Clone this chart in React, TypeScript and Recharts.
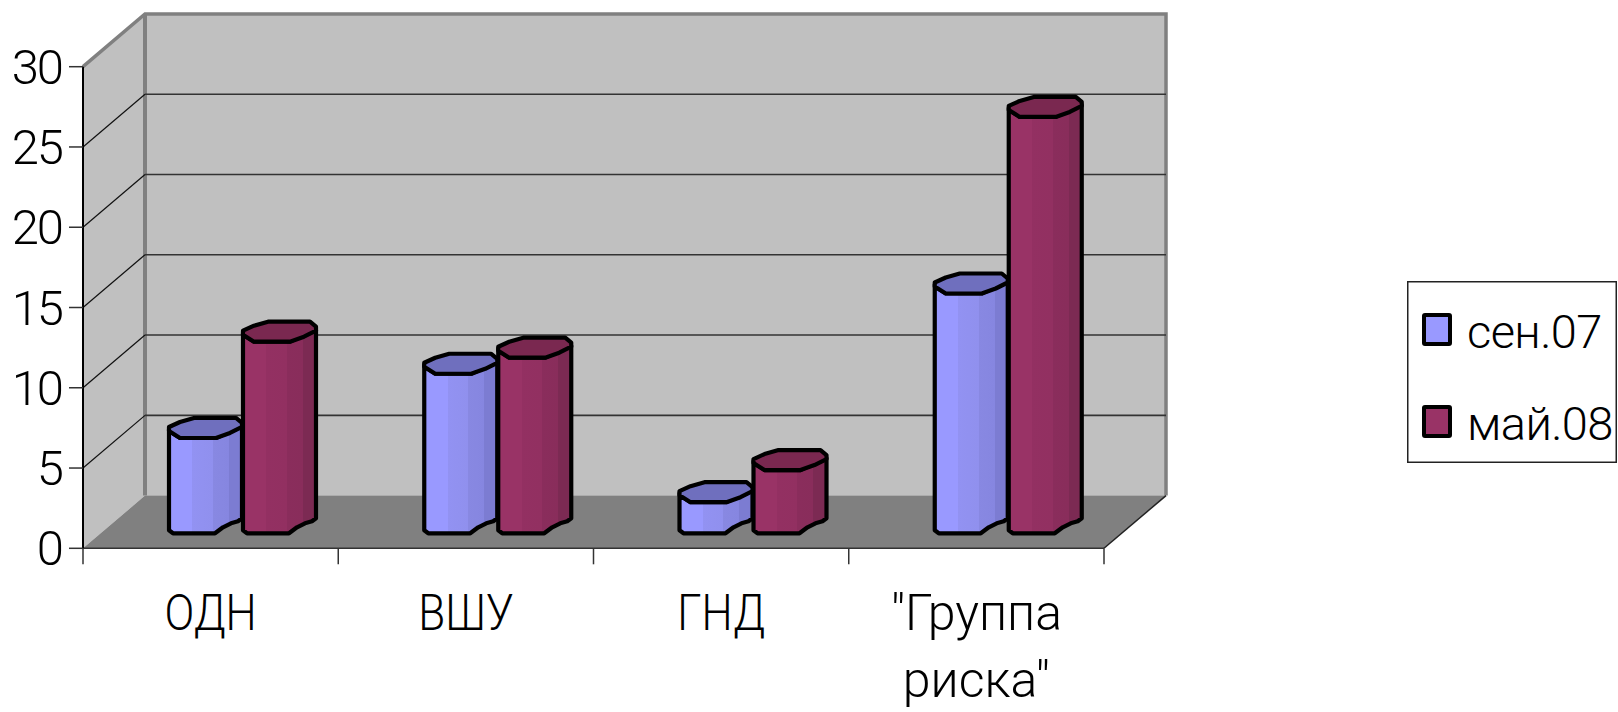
import React from 'react';
import { BarChart, Bar, XAxis, YAxis, CartesianGrid, Legend } from 'recharts';

const categories = ['ОДН', 'ВШУ', 'ГНД', '"Группа риска"'];
const sep07 = [6, 10, 2, 15];
const may08 = [12, 11, 4, 26];
const yTicks = [0, 5, 10, 15, 20, 25, 30];
const seriesNames = ['сен.07', 'май.08'];

const data = categories.map((name, i) => ({ name, sep: sep07[i], may: may08[i] }));

const W = 1618, H = 712;
const L = 83, T = 66.7, R = 1104, B = 548.3;
const DX = 62, DY = 52.7;
const BAND = (R - L) / categories.length;
const FONT = 'Roboto, sans-serif';
const GRAY = '#808080', WALL = '#C0C0C0';

const Walls = () => (
  <g>
    <polygon points={`${L},${T} ${L + DX},${T - DY} ${L + DX},${B - DY} ${L},${B}`} fill={WALL} />
    <rect x={L + DX} y={T - DY} width={R - L} height={B - T} fill={WALL} />
    <polygon points={`${L},${B} ${L + DX},${B - DY} ${R + DX},${B - DY} ${R},${B}`} fill={GRAY} />
    <polyline points={`${L},${T} ${L + DX},${T - DY} ${R + DX},${T - DY} ${R + DX},${B - DY}`} fill="none" stroke={GRAY} strokeWidth={3.5} />
    <line x1={L + DX} y1={T - DY} x2={L + DX} y2={B - DY} stroke={GRAY} strokeWidth={4} />
    <line x1={R} y1={B} x2={R + DX} y2={B - DY} stroke="#222" strokeWidth={1.5} />
  </g>
);

const gridLine = (p: any) => {
  const k = p.key ?? p.index;
  if (p.index === 0) return <Walls key={k} />;
  if (p.y1 >= B - 1 || p.y1 <= T + 1) return <g key={k} />;
  return (
    <g key={k}>
      <line x1={p.x1} y1={p.y1} x2={p.x1 + DX} y2={p.y1 - DY} stroke="#111" strokeWidth={1.2} />
      <line x1={p.x1 + DX} y1={p.y1 - DY} x2={p.x2 + DX} y2={p.y1 - DY} stroke="#333" strokeWidth={1.6} />
    </g>
  );
};

const palettes: Record<string, { grad: string; cap: string }> = {
  sep: { grad: 'url(#sepGrad)', cap: '#6F6FBE' },
  may: { grad: 'url(#mayGrad)', cap: '#7A2850' },
};

const Cylinder = (p: any) => {
  const { x, y, width: w, height: h, dataKey } = p;
  const pal = palettes[dataKey];
  const X = x + 31;
  const b = y + h - 15;
  const t = y - 15 + 1;
  const px = (dx: number, yy: number) => `${X + dx},${yy}`;
  const side = [
    px(1, t - 9), px(1, b - 3), px(5, b), px(47, b), px(55, b - 6), px(63, b - 10), px(70, b - 12), px(w, b - 15),
    px(w, t - 12), px(48, t), px(12, t), px(1, t - 7),
  ].join(' ');
  const cap = [
    px(1, t - 7), px(12, t), px(48, t), px(62, t - 5), px(w, t - 11), px(w, t - 15), px(68, t - 20), px(26, t - 20), px(12, t - 16), px(1, t - 11),
  ].join(' ');
  return (
    <g stroke="#000" strokeWidth={4.2} strokeLinejoin="round">
      <polygon points={side} fill={pal.grad} />
      <polygon points={cap} fill={pal.cap} />
    </g>
  );
};

const YTick = (p: any) => (
  <g>
    <line x1={L - 14} y1={p.y} x2={L} y2={p.y} stroke="#333" strokeWidth={1.5} />
    <text x={62} y={p.y + 17} textAnchor="end" fontFamily={FONT} fontWeight={300} fontSize={49} letterSpacing={-2} fill="#000">
      {p.payload.value}
    </text>
  </g>
);

const XTick = (p: any) => {
  const words = String(p.payload.value).split(' ');
  const last = p.index === categories.length - 1;
  const squeeze = words.length > 1 ? 1 : 0.88;
  return (
    <g>
      <line x1={p.x - BAND / 2} y1={B} x2={p.x - BAND / 2} y2={B + 16} stroke="#333" strokeWidth={1.5} />
      {last && <line x1={p.x + BAND / 2} y1={B} x2={p.x + BAND / 2} y2={B + 16} stroke="#333" strokeWidth={1.5} />}
      <g transform={`translate(${p.x},0) scale(${squeeze},1)`}>
        <text textAnchor="middle" fontFamily={FONT} fontWeight={300} fontSize={50} fill="#000">
          {words.map((wd, i) => (
            <tspan key={i} x={0} y={630 + i * 67}>{wd}</tspan>
          ))}
        </text>
      </g>
    </g>
  );
};

const LegendBox = (props: any) => {
  const rows = [...(props.payload ?? [])].sort(
    (a: any, b: any) => seriesNames.indexOf(a.value) - seriesNames.indexOf(b.value),
  );
  return (
    <svg width={210} height={182} style={{ display: 'block' }}>
      <rect x={0.75} y={0.75} width={208.5} height={180.5} fill="#fff" stroke="#222" strokeWidth={1.5} />
      {rows.map((r: any, i: number) => (
        <g key={r.value}>
          <rect x={17} y={34 + i * 92} width={26} height={29} fill={r.color} stroke="#000" strokeWidth={4} rx={1} />
          <text x={60} y={67 + i * 92} fontFamily={FONT} fontWeight={300} fontSize={47} letterSpacing={-0.6} fill="#000">{r.value}</text>
        </g>
      ))}
    </svg>
  );
};

export default function App() {
  return (
    <div style={{ position: 'absolute', left: 0, top: 0, width: W, height: H, background: '#fff' }}>
      <BarChart
        width={W}
        height={H}
        data={data}
        barSize={74}
        barGap={0}
        margin={{ left: L - 60, top: T, right: W - R, bottom: H - B - 60 }}
      >
        <defs>
          <linearGradient id="sepGrad" x1="0" y1="0" x2="1" y2="0">
            <stop offset="0" stopColor="#9999FF" />
            <stop offset="0.32" stopColor="#9999FF" />
            <stop offset="0.32" stopColor="#9292F2" />
            <stop offset="0.6" stopColor="#9090EE" />
            <stop offset="0.6" stopColor="#8888E2" />
            <stop offset="0.82" stopColor="#8686E0" />
            <stop offset="0.82" stopColor="#7C7CD2" />
            <stop offset="1" stopColor="#7C7CD2" />
          </linearGradient>
          <linearGradient id="mayGrad" x1="0" y1="0" x2="1" y2="0">
            <stop offset="0" stopColor="#993366" />
            <stop offset="0.32" stopColor="#993366" />
            <stop offset="0.32" stopColor="#933062" />
            <stop offset="0.6" stopColor="#923061" />
            <stop offset="0.6" stopColor="#8A2D5C" />
            <stop offset="0.82" stopColor="#892D5B" />
            <stop offset="0.82" stopColor="#7C2A53" />
            <stop offset="1" stopColor="#7C2A53" />
          </linearGradient>
        </defs>
        <CartesianGrid vertical={false} horizontal={gridLine as any} />
        <XAxis
          dataKey="name"
          height={60}
          interval={0}
          tickLine={false}
          axisLine={{ stroke: '#333', strokeWidth: 1.5 }}
          tick={XTick as any}
        />
        <YAxis
          width={60}
          domain={[0, 30]}
          ticks={yTicks}
          interval={0}
          tickLine={false}
          axisLine={{ stroke: '#000', strokeWidth: 2 }}
          tick={YTick as any}
        />
        <Bar dataKey="sep" name={seriesNames[0]} fill="#9999FF" isAnimationActive={false} shape={Cylinder} />
        <Bar dataKey="may" name={seriesNames[1]} fill="#993366" isAnimationActive={false} shape={Cylinder} />
        <Legend
          layout="vertical"
          align="center"
          verticalAlign="middle"
          content={LegendBox as any}
          wrapperStyle={{ left: 1407, top: 281, width: 210, height: 182 }}
        />
      </BarChart>
    </div>
  );
}
